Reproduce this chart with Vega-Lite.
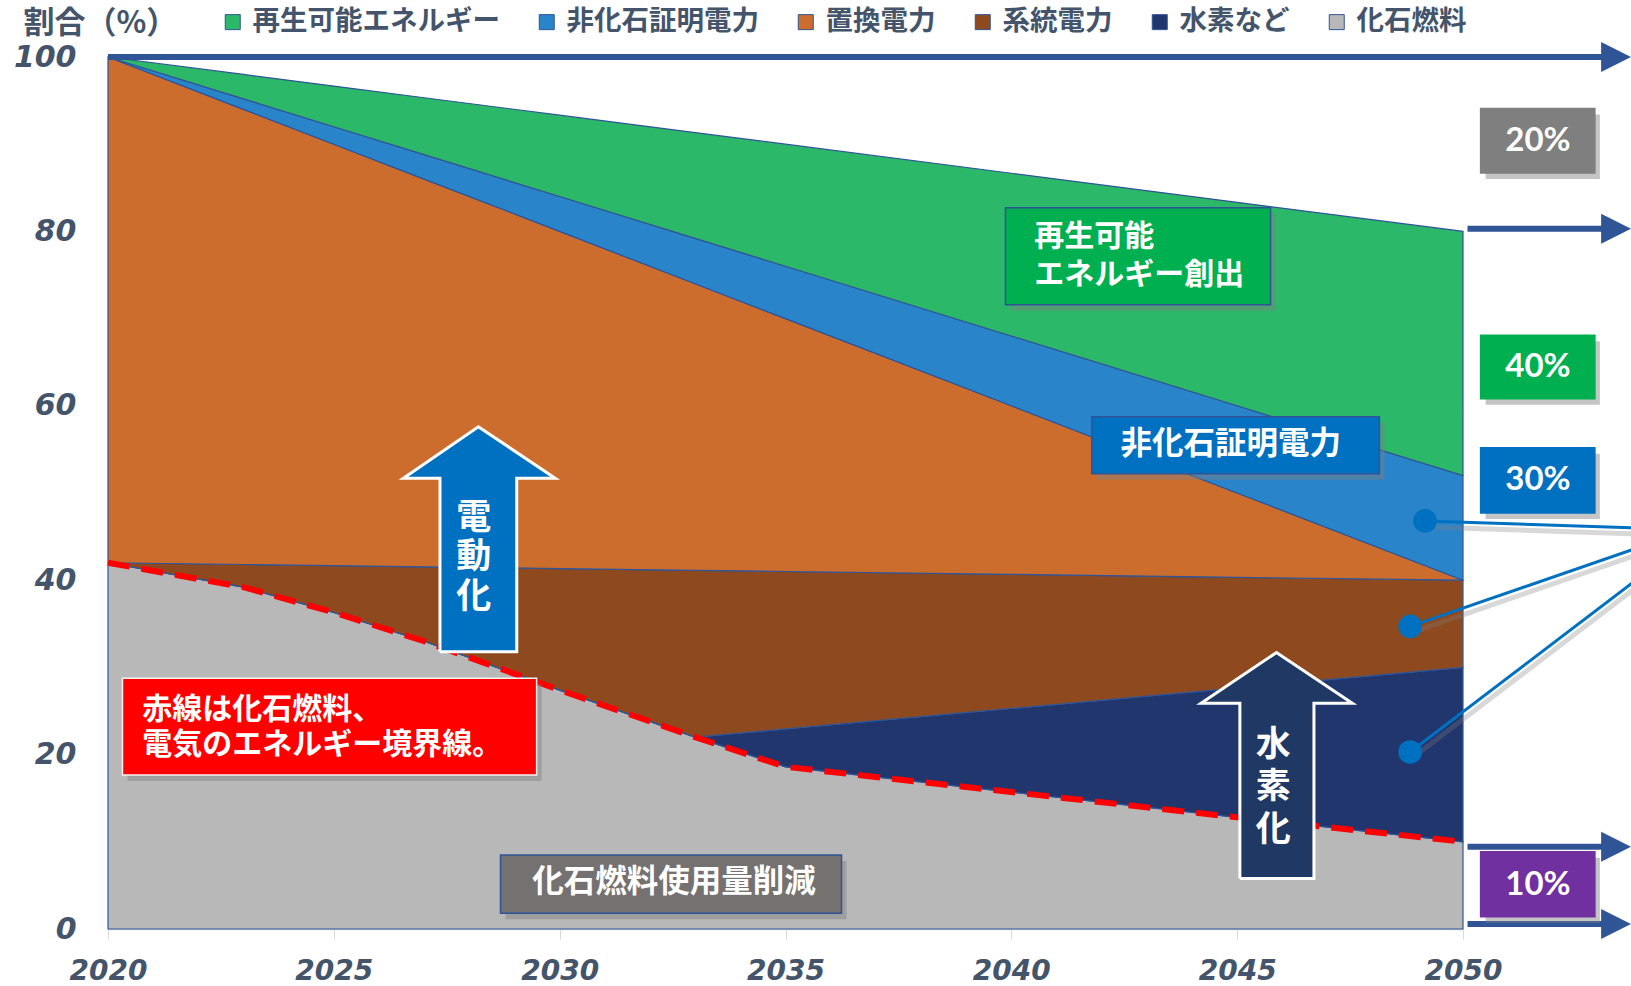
{
 "$schema": "https://vega.github.io/schema/vega-lite/v6.json",
 "width": 1355,
 "height": 872,
 "autosize": {"type": "none"},
 "padding": {"left": 108, "top": 57, "right": 168, "bottom": 57},
 "background": "white",
 "config": {"view": {"stroke": null}, "font": "Noto Sans CJK JP"},
 "datasets": {
  "series": [
   {"year":2020,"series":"化石燃料","k":1,"value":42.0},
   {"year":2020,"series":"水素など","k":2,"value":0},
   {"year":2020,"series":"系統電力","k":3,"value":0},
   {"year":2020,"series":"置換電力","k":4,"value":58.0},
   {"year":2020,"series":"非化石証明電力","k":5,"value":0},
   {"year":2020,"series":"再生可能エネルギー","k":6,"value":0},
   {"year":2023,"series":"化石燃料","k":1,"value":39.2},
   {"year":2023,"series":"水素など","k":2,"value":0},
   {"year":2023,"series":"系統電力","k":3,"value":2.6},
   {"year":2023,"series":"置換電力","k":4,"value":52.2},
   {"year":2023,"series":"非化石証明電力","k":5,"value":1.2},
   {"year":2023,"series":"再生可能エネルギー","k":6,"value":2.8},
   {"year":2025,"series":"化石燃料","k":1,"value":36.3},
   {"year":2025,"series":"水素など","k":2,"value":0},
   {"year":2025,"series":"系統電力","k":3,"value":5.37},
   {"year":2025,"series":"置換電力","k":4,"value":48.33},
   {"year":2025,"series":"非化石証明電力","k":5,"value":2.0},
   {"year":2025,"series":"再生可能エネルギー","k":6,"value":4.67},
   {"year":2027,"series":"化石燃料","k":1,"value":33.0},
   {"year":2027,"series":"水素など","k":2,"value":0},
   {"year":2027,"series":"系統電力","k":3,"value":8.53},
   {"year":2027,"series":"置換電力","k":4,"value":44.47},
   {"year":2027,"series":"非化石証明電力","k":5,"value":2.8},
   {"year":2027,"series":"再生可能エネルギー","k":6,"value":6.53},
   {"year":2030,"series":"化石燃料","k":1,"value":27.4},
   {"year":2030,"series":"水素など","k":2,"value":0},
   {"year":2030,"series":"系統電力","k":3,"value":13.93},
   {"year":2030,"series":"置換電力","k":4,"value":38.67},
   {"year":2030,"series":"非化石証明電力","k":5,"value":4.0},
   {"year":2030,"series":"再生可能エネルギー","k":6,"value":9.33},
   {"year":2033,"series":"化石燃料","k":1,"value":22.0},
   {"year":2033,"series":"水素など","k":2,"value":0},
   {"year":2033,"series":"系統電力","k":3,"value":19.13},
   {"year":2033,"series":"置換電力","k":4,"value":32.87},
   {"year":2033,"series":"非化石証明電力","k":5,"value":5.2},
   {"year":2033,"series":"再生可能エネルギー","k":6,"value":12.13},
   {"year":2035,"series":"化石燃料","k":1,"value":18.6},
   {"year":2035,"series":"水素など","k":2,"value":4.34},
   {"year":2035,"series":"系統電力","k":3,"value":18.06},
   {"year":2035,"series":"置換電力","k":4,"value":29.0},
   {"year":2035,"series":"非化石証明電力","k":5,"value":6.0},
   {"year":2035,"series":"再生可能エネルギー","k":6,"value":14.0},
   {"year":2040,"series":"化石燃料","k":1,"value":15.7},
   {"year":2040,"series":"水素など","k":2,"value":9.59},
   {"year":2040,"series":"系統電力","k":3,"value":15.38},
   {"year":2040,"series":"置換電力","k":4,"value":19.33},
   {"year":2040,"series":"非化石証明電力","k":5,"value":8.0},
   {"year":2040,"series":"再生可能エネルギー","k":6,"value":18.67},
   {"year":2045,"series":"化石燃料","k":1,"value":12.8},
   {"year":2045,"series":"水素など","k":2,"value":14.85},
   {"year":2045,"series":"系統電力","k":3,"value":12.68},
   {"year":2045,"series":"置換電力","k":4,"value":9.67},
   {"year":2045,"series":"非化石証明電力","k":5,"value":10.0},
   {"year":2045,"series":"再生可能エネルギー","k":6,"value":23.33},
   {"year":2050,"series":"化石燃料","k":1,"value":10.0},
   {"year":2050,"series":"水素など","k":2,"value":20.0},
   {"year":2050,"series":"系統電力","k":3,"value":10.0},
   {"year":2050,"series":"置換電力","k":4,"value":0.0},
   {"year":2050,"series":"非化石証明電力","k":5,"value":12.0},
   {"year":2050,"series":"再生可能エネルギー","k":6,"value":28.0}
  ],
  "arrowLines": [
   {"x":2020,"x2":2053.2,"y":100},
   {"x":2050.1,"x2":2053.2,"y":80.3},
   {"x":2050.1,"x2":2053.2,"y":9.44},
   {"x":2050.1,"x2":2053.2,"y":0.57}
  ],
  "arrowHeads": [
   {"x":2053.39,"y":100},
   {"x":2053.39,"y":80.3},
   {"x":2053.39,"y":9.44},
   {"x":2053.39,"y":0.57}
  ],
  "leaders": [
   {"x":2049.16,"y":46.8,"x2":2053.75,"y2":46.0},
   {"x":2048.83,"y":34.7,"x2":2053.75,"y2":43.5},
   {"x":2048.83,"y":20.3,"x2":2053.75,"y2":39.7}
  ],
  "boxes": [
   {"b":"20%","x":2050.39,"x2":2052.92,"y":94.1,"y2":86.7},
   {"b":"40%","x":2050.39,"x2":2052.92,"y":68.1,"y2":60.8},
   {"b":"30%","x":2050.39,"x2":2052.92,"y":55.2,"y2":47.7},
   {"b":"10%","x":2050.39,"x2":2052.92,"y":8.86,"y2":1.41},
   {"b":"再生","x":2039.87,"x2":2045.74,"y":82.7,"y2":71.6},
   {"b":"非化石","x":2041.78,"x2":2048.15,"y":58.75,"y2":52.2},
   {"b":"削減","x":2028.69,"x2":2036.24,"y":8.49,"y2":1.8},
   {"b":"赤線","x":2020.32,"x2":2029.49,"y":28.75,"y2":17.66}
  ],
  "polys": [
   {"a":"電動化","i":0,"x":2027.35,"y":31.8},
   {"a":"電動化","i":1,"x":2027.35,"y":51.7},
   {"a":"電動化","i":2,"x":2026.54,"y":51.7},
   {"a":"電動化","i":3,"x":2028.2,"y":57.6},
   {"a":"電動化","i":4,"x":2029.9,"y":51.7},
   {"a":"電動化","i":5,"x":2029.05,"y":51.7},
   {"a":"電動化","i":6,"x":2029.05,"y":31.8},
   {"a":"電動化","i":7,"x":2027.35,"y":31.8},
   {"a":"水素化","i":0,"x":2045.06,"y":5.8},
   {"a":"水素化","i":1,"x":2045.06,"y":25.9},
   {"a":"水素化","i":2,"x":2044.2,"y":25.9},
   {"a":"水素化","i":3,"x":2045.87,"y":31.7},
   {"a":"水素化","i":4,"x":2047.55,"y":25.9},
   {"a":"水素化","i":5,"x":2046.7,"y":25.9},
   {"a":"水素化","i":6,"x":2046.7,"y":5.8},
   {"a":"水素化","i":7,"x":2045.06,"y":5.8}
  ],
  "txtLeft": [
   {"t":"再生可能","x":2040.51,"y":79.4},
   {"t":"エネルギー創出","x":2040.51,"y":75.0},
   {"t":"赤線は化石燃料、","x":2020.76,"y":25.1},
   {"t":"電気のエネルギー境界線。","x":2020.76,"y":21.1}
  ],
  "txtCenter": [
   {"t":"非化石証明電力","x":2044.86,"y":55.5},
   {"t":"化石燃料使用量削減","x":2032.53,"y":5.27}
  ],
  "txtArrow": [
   {"t":"電","x":2028.1,"y":47.1},
   {"t":"動","x":2028.1,"y":42.7},
   {"t":"化","x":2028.1,"y":38.1},
   {"t":"水","x":2045.8,"y":21.1},
   {"t":"素","x":2045.8,"y":16.3},
   {"t":"化","x":2045.8,"y":11.4}
  ],
  "txtPct": [
   {"t":"20%","x":2051.66,"y":90.4},
   {"t":"40%","x":2051.66,"y":64.45},
   {"t":"30%","x":2051.66,"y":51.45},
   {"t":"10%","x":2051.66,"y":5.1}
  ]
 },
 "layer": [
  {
   "data": {"name": "series"},
   "mark": {"type": "area", "stroke": "#2F5597", "strokeWidth": 1.2, "fillOpacity": 1},
   "encoding": {
    "x": {"field": "year", "type": "quantitative",
     "scale": {"domain": [2020, 2050], "nice": false, "zero": false},
     "axis": {"values": [2020, 2025, 2030, 2035, 2040, 2045, 2050], "format": "d", "title": null, "grid": false,
      "domain": true, "domainColor": "#D9D9D9", "domainWidth": 1.5, "ticks": true, "tickColor": "#D9D9D9", "tickSize": 10,
      "labelPadding": 18, "labelFont": "DejaVu Sans", "labelFontWeight": "bold", "labelFontStyle": "italic",
      "labelFontSize": 28, "labelColor": "#44546A", "labelFlush": false, "labelOverlap": false}},
    "y": {"field": "value", "type": "quantitative", "stack": "zero",
     "scale": {"domain": [0, 100], "nice": false},
     "axis": {"values": [0, 20, 40, 60, 80, 100], "grid": false, "domain": false, "ticks": false, "tickSize": 0,
      "labelPadding": 32, "labelFont": "DejaVu Sans", "labelFontWeight": "bold", "labelFontStyle": "italic",
      "labelFontSize": 30, "labelColor": "#44546A",
      "title": "割合（%）", "titleAngle": 0, "titleX": -85, "titleY": -34, "titleAlign": "left", "titleBaseline": "middle",
      "titleFont": "Noto Sans CJK JP", "titleFontSize": 31, "titleFontWeight": "bold", "titleColor": "#44546A"}},
    "color": {"field": "series", "type": "nominal",
     "scale": {"domain": ["再生可能エネルギー", "非化石証明電力", "置換電力", "系統電力", "水素など", "化石燃料"],
      "range": ["#2BB868", "#2A84CA", "#CC6D2E", "#8E4A1E", "#22366E", "#B8B8B8"]},
     "legend": {"orient": "none", "legendX": 111, "legendY": -49, "direction": "horizontal", "title": null,
      "padding": 0, "symbolType": "square", "symbolSize": 225, "symbolStrokeColor": "#2F5597", "symbolStrokeWidth": 1,
      "labelFont": "Noto Sans CJK JP", "labelFontSize": 27.5, "labelFontWeight": "bold", "labelColor": "#44546A",
      "labelOffset": 6, "labelLimit": 0, "columnPadding": 33,
      "labelExpr": "datum.label == '置換電力' ? ' 置換電力' : datum.label"}},
    "order": {"field": "k", "type": "quantitative"}
   }
  },
  {
   "data": {"name": "series"},
   "transform": [{"filter": "datum.series == '化石燃料'"}],
   "mark": {"type": "line", "stroke": "#FF0000", "strokeWidth": 6, "strokeDash": [22, 12]},
   "encoding": {
    "x": {"field": "year", "type": "quantitative", "scale": {"domain": [2020, 2050], "nice": false, "zero": false}},
    "y": {"field": "value", "type": "quantitative", "scale": {"domain": [0, 100], "nice": false}}
   }
  },
  {
   "data": {"name": "arrowLines"},
   "mark": {"type": "rule", "stroke": "#2F5597", "strokeWidth": 6},
   "encoding": {
    "x": {"field": "x", "type": "quantitative", "scale": {"domain": [2020, 2050], "nice": false, "zero": false}},
    "x2": {"field": "x2"},
    "y": {"field": "y", "type": "quantitative", "scale": {"domain": [0, 100], "nice": false}}
   }
  },
  {
   "data": {"name": "arrowHeads"},
   "mark": {"type": "point", "shape": "M-1,-1L1,0L-1,1Z", "filled": true, "fill": "#2F5597", "fillOpacity": 1, "strokeWidth": 0, "size": 900},
   "encoding": {
    "x": {"field": "x", "type": "quantitative", "scale": {"domain": [2020, 2050], "nice": false, "zero": false}},
    "y": {"field": "y", "type": "quantitative", "scale": {"domain": [0, 100], "nice": false}}
   }
  },
  {
   "data": {"name": "leaders"},
   "mark": {"type": "rule", "stroke": "#7F7F7F", "strokeWidth": 5, "opacity": 0.3, "yOffset": 6, "y2Offset": 6, "xOffset": 2, "x2Offset": 2},
   "encoding": {
    "x": {"field": "x", "type": "quantitative", "scale": {"domain": [2020, 2050], "nice": false, "zero": false}},
    "x2": {"field": "x2"},
    "y": {"field": "y", "type": "quantitative", "scale": {"domain": [0, 100], "nice": false}},
    "y2": {"field": "y2"}
   }
  },
  {
   "data": {"name": "leaders"},
   "mark": {"type": "rule", "stroke": "#0070C0", "strokeWidth": 3},
   "encoding": {
    "x": {"field": "x", "type": "quantitative", "scale": {"domain": [2020, 2050], "nice": false, "zero": false}},
    "x2": {"field": "x2"},
    "y": {"field": "y", "type": "quantitative", "scale": {"domain": [0, 100], "nice": false}},
    "y2": {"field": "y2"}
   }
  },
  {
   "data": {"name": "leaders"},
   "mark": {"type": "point", "shape": "circle", "filled": true, "fill": "#0070C0", "fillOpacity": 1, "size": 560, "strokeWidth": 0},
   "encoding": {
    "x": {"field": "x", "type": "quantitative", "scale": {"domain": [2020, 2050], "nice": false, "zero": false}},
    "y": {"field": "y", "type": "quantitative", "scale": {"domain": [0, 100], "nice": false}}
   }
  },
  {
   "data": {"name": "boxes"},
   "mark": {"type": "rect", "fill": "#7F7F7F", "opacity": 0.45, "xOffset": 5, "x2Offset": 5, "yOffset": 6, "y2Offset": 6},
   "encoding": {
    "x": {"field": "x", "type": "quantitative", "scale": {"domain": [2020, 2050], "nice": false, "zero": false}},
    "x2": {"field": "x2"},
    "y": {"field": "y", "type": "quantitative", "scale": {"domain": [0, 100], "nice": false}},
    "y2": {"field": "y2"}
   }
  },
  {
   "data": {"name": "boxes"},
   "mark": {"type": "rect", "strokeWidth": 1.5, "opacity": 1},
   "encoding": {
    "x": {"field": "x", "type": "quantitative", "scale": {"domain": [2020, 2050], "nice": false, "zero": false}},
    "x2": {"field": "x2"},
    "y": {"field": "y", "type": "quantitative", "scale": {"domain": [0, 100], "nice": false}},
    "y2": {"field": "y2"},
    "fill": {"field": "b", "type": "nominal", "legend": null,
     "scale": {"domain": ["20%", "40%", "30%", "10%", "再生", "非化石", "削減", "赤線"],
      "range": ["#7F7F7F", "#00B050", "#0070C0", "#7030A0", "#00B050", "#0070C0", "#767171", "#FF0000"]}},
    "stroke": {"field": "b", "type": "nominal", "legend": null,
     "scale": {"domain": ["20%", "40%", "30%", "10%", "再生", "非化石", "削減", "赤線"],
      "range": ["#7F7F7F", "#00B050", "#0070C0", "#7030A0", "#2F5597", "#2F5597", "#2F5597", "#F2F2F2"]}}
   }
  },
  {
   "data": {"name": "polys"},
   "transform": [{"filter": "datum.a == '電動化'"}],
   "mark": {"type": "line", "fill": "#0070C0", "stroke": "white", "strokeWidth": 3, "strokeJoin": "miter"},
   "encoding": {
    "x": {"field": "x", "type": "quantitative", "scale": {"domain": [2020, 2050], "nice": false, "zero": false}},
    "y": {"field": "y", "type": "quantitative", "scale": {"domain": [0, 100], "nice": false}},
    "order": {"field": "i", "type": "quantitative"}
   }
  },
  {
   "data": {"name": "polys"},
   "transform": [{"filter": "datum.a == '水素化'"}],
   "mark": {"type": "line", "fill": "#203864", "stroke": "white", "strokeWidth": 3, "strokeJoin": "miter"},
   "encoding": {
    "x": {"field": "x", "type": "quantitative", "scale": {"domain": [2020, 2050], "nice": false, "zero": false}},
    "y": {"field": "y", "type": "quantitative", "scale": {"domain": [0, 100], "nice": false}},
    "order": {"field": "i", "type": "quantitative"}
   }
  },
  {
   "data": {"name": "txtLeft"},
   "mark": {"type": "text", "align": "left", "baseline": "middle", "font": "Noto Sans CJK JP", "fontWeight": "bold", "fontSize": 30, "fill": "white"},
   "encoding": {
    "x": {"field": "x", "type": "quantitative", "scale": {"domain": [2020, 2050], "nice": false, "zero": false}},
    "y": {"field": "y", "type": "quantitative", "scale": {"domain": [0, 100], "nice": false}},
    "text": {"field": "t"}
   }
  },
  {
   "data": {"name": "txtCenter"},
   "mark": {"type": "text", "align": "center", "baseline": "middle", "font": "Noto Sans CJK JP", "fontWeight": "bold", "fontSize": 31.5, "fill": "white"},
   "encoding": {
    "x": {"field": "x", "type": "quantitative", "scale": {"domain": [2020, 2050], "nice": false, "zero": false}},
    "y": {"field": "y", "type": "quantitative", "scale": {"domain": [0, 100], "nice": false}},
    "text": {"field": "t"}
   }
  },
  {
   "data": {"name": "txtArrow"},
   "mark": {"type": "text", "align": "center", "baseline": "middle", "font": "Noto Sans CJK JP", "fontWeight": "bold", "fontSize": 35, "fill": "white"},
   "encoding": {
    "x": {"field": "x", "type": "quantitative", "scale": {"domain": [2020, 2050], "nice": false, "zero": false}},
    "y": {"field": "y", "type": "quantitative", "scale": {"domain": [0, 100], "nice": false}},
    "text": {"field": "t"}
   }
  },
  {
   "data": {"name": "txtPct"},
   "mark": {"type": "text", "align": "center", "baseline": "middle", "font": "Lato", "fontWeight": "bold", "fontSize": 33, "fill": "white"},
   "encoding": {
    "x": {"field": "x", "type": "quantitative", "scale": {"domain": [2020, 2050], "nice": false, "zero": false}},
    "y": {"field": "y", "type": "quantitative", "scale": {"domain": [0, 100], "nice": false}},
    "text": {"field": "t"}
   }
  }
 ]
}
